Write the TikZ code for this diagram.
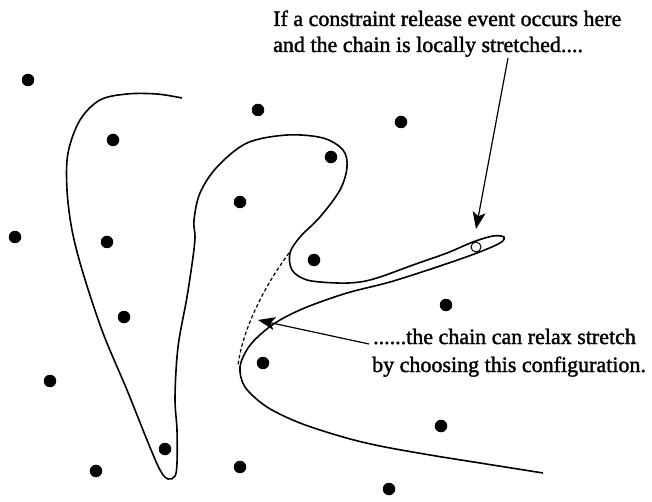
\documentclass[tikz,border=0pt]{standalone}
\usepackage{fontspec}
\setmainfont{Liberation Serif}
\newfontfamily\heavyserif{Liberation Serif}[FakeBold=1.5]
\usetikzlibrary{arrows.meta}
\begin{document}
\begin{tikzpicture}[x=1pt,y=-1pt,
  dot/.style={circle,fill=black,inner sep=0pt,minimum size=12.5pt},
  hole/.style={circle,draw=black,line width=1pt,fill=white,inner sep=0pt,minimum size=10pt},
  chain/.style={line width=1.6pt,line join=round},
  alt/.style={line width=1.2pt,dash pattern=on 3.5pt off 2.5pt},
  lbl/.style={font=\heavyserif\fontsize{22}{26}\selectfont,anchor=base west,inner sep=0pt},
  pointer/.style={line width=1.2pt,-{Stealth[length=17pt,width=13pt,inset=4pt]}}]
\useasboundingbox (0,0) rectangle (652,502);
% obstacles
\node[dot] (d1) at (28,80) {};
\node[dot] (d2) at (113,140) {};
\node[dot] (d3) at (258,110) {};
\node[dot] (d4) at (401,122) {};
\node[dot] (d5) at (331,157) {};
\node[dot] (d6) at (240,202) {};
\node[dot] (d7) at (15,237) {};
\node[dot] (d8) at (107,242) {};
\node[dot] (d9) at (314,260) {};
\node[dot] (d10) at (124,317) {};
\node[dot] (d11) at (446,305) {};
\node[dot] (d12) at (263,363) {};
\node[dot] (d13) at (50,381) {};
\node[dot] (d14) at (441,426) {};
\node[dot] (d15) at (165,449) {};
\node[dot] (d16) at (96,471) {};
\node[dot] (d17) at (240,467) {};
\node[dot] (d18) at (389,489) {};
% chain
\draw[chain] plot[smooth,tension=0.55] coordinates {
 (182,98) (157,94) (127,94) (100,100) (80,120) (68,153) (67,190) (72,230)
 (83,273) (103,333) (127,390) (147,440) (160,470) (168,479) (175,476)
 (177,463) (177,430) (175,397) (178,347) (187,297) (193,257) (195,237)
 (194,220) (200,193) (217,167) (247,143) (287,135) (323,138) (343,150)
 (347,167) (340,190) (320,217) (300,237) (290,253) (292,270) (307,280)
 (337,283) (360,282) (380,277) (413,265) (447,253) (473,242) (493,236)
 (504,237) (500,243) (477,253) (437,267) (390,282) (347,293) (307,307)
 (280,320) (262,333) (248,348) (240,367) (245,387) (267,407) (300,423)
 (343,437) (380,446) (430,455) (480,463) (543,473)};
% alternative configuration
\coordinate (c1) at (289,253);
\coordinate (c2) at (238,366);
\draw[alt] (c1) .. controls (265,285) and (242,330) .. (c2);
% marked site
\node[hole] (h) at (476,247) {};
% texts
\node[lbl] (t1) at (273,26) {If a constraint release event occurs here};
\node[lbl] (t2) at (273,52) {and the chain is locally stretched....};
\node[lbl] (t3) at (373,344) {......the chain can relax stretch};
\node[lbl] (t4) at (372,372) {by choosing this configuration.};
% arrows
\coordinate (a1s) at (508,58);
\coordinate (a1e) at (476,229);
\draw[pointer] (a1s) -- (a1e);
\coordinate (a2s) at (369,344);
\coordinate (a2e) at (258,320);
\draw[pointer] (a2s) -- (a2e);
\end{tikzpicture}
\end{document}
